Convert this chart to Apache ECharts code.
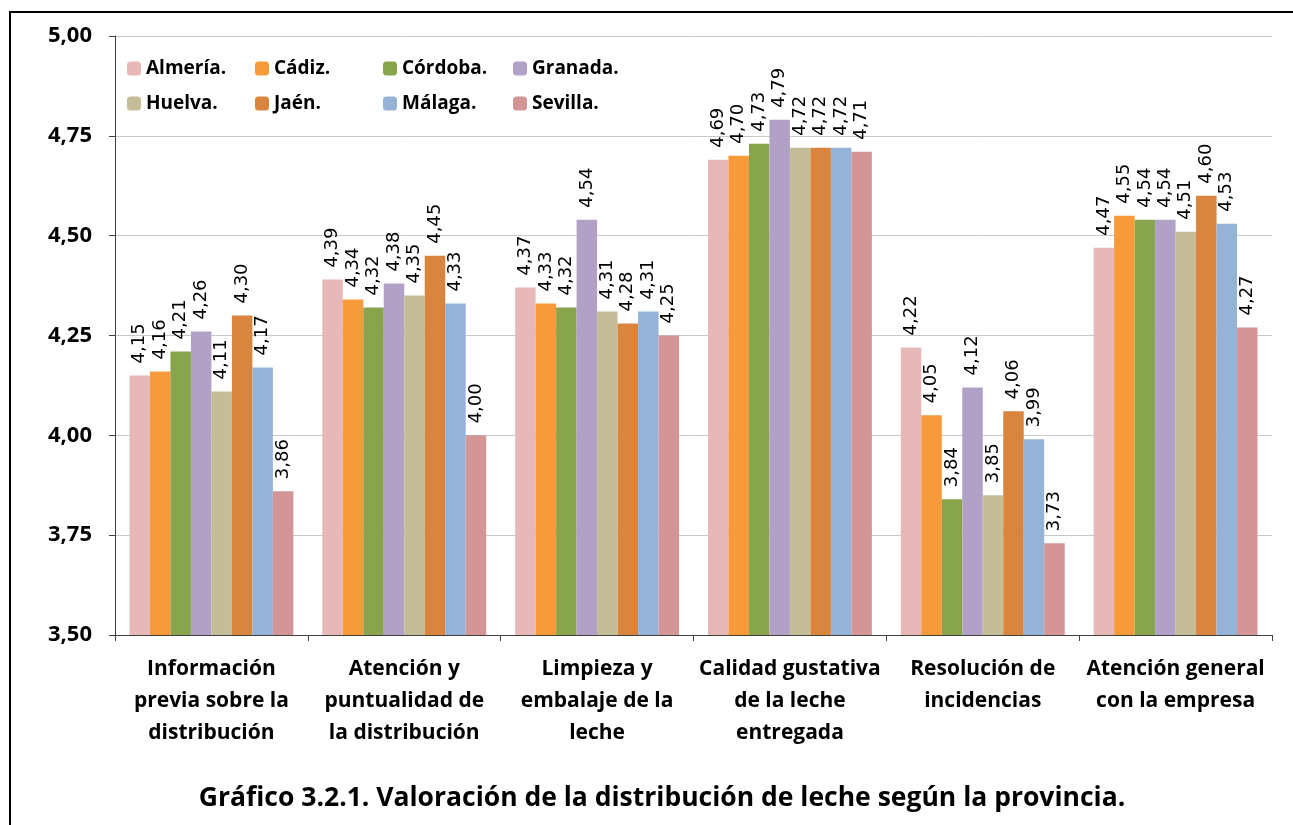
<!DOCTYPE html>
<html>
<head>
<meta charset="utf-8">
<script src="https://cdn.jsdelivr.net/npm/echarts@6/dist/echarts.min.js"></script>
<style>
    html, body { margin: 0; padding: 0; background: #fff; }
    #main { width: 1293px; height: 825px; }
</style>
</head>
<body>
<div id="main"></div>
<script>
// categorías del eje X
var categorias = [
    'Información\nprevia sobre la\ndistribución',
    'Atención y\npuntualidad de\nla distribución',
    'Limpieza y\nembalaje de la\nleche',
    'Calidad gustativa\nde la leche\nentregada',
    'Resolución de\nincidencias',
    'Atención general\ncon la empresa'
];
var provincias = ['Almería.', 'Cádiz.', 'Córdoba.', 'Granada.', 'Huelva.', 'Jaén.', 'Málaga.', 'Sevilla.'];
var colores = ['#E6B9B8', '#F79A3A', '#88A54E', '#B2A1C7', '#C4BD97', '#D9853E', '#95B3D7', '#D39595'];

var almeria = [4.15, 4.39, 4.37, 4.69, 4.22, 4.47];
var cadiz   = [4.16, 4.34, 4.33, 4.70, 4.05, 4.55];
var cordoba = [4.21, 4.32, 4.32, 4.73, 3.84, 4.54];
var granada = [4.26, 4.38, 4.54, 4.79, 4.12, 4.54];
var huelva  = [4.11, 4.35, 4.31, 4.72, 3.85, 4.51];
var jaen    = [4.30, 4.45, 4.28, 4.72, 4.06, 4.60];
var malaga  = [4.17, 4.33, 4.31, 4.72, 3.99, 4.53];
var sevilla = [3.86, 4.00, 4.25, 4.71, 3.73, 4.27];
var valores = [almeria, cadiz, cordoba, granada, huelva, jaen, malaga, sevilla];

function coma(v) {
    return Number(v).toFixed(2).replace('.', ',');
}

var myChart = echarts.init(document.getElementById('main'));

var series = [];
for (var i = 0; i < provincias.length; i++) {
    series.push({
        type: 'bar',
        name: provincias[i],
        data: valores[i],
        barGap: '0%',
        barCategoryGap: '15%',
        itemStyle: { color: colores[i] },
        label: {
            show: true,
            position: 'top',
            rotate: 90,
            align: 'left',
            verticalAlign: 'middle',
            distance: 12,
            fontFamily: 'DejaVu Sans',
            fontSize: 18,
            color: '#000',
            formatter: function (p) { return coma(p.value); }
        }
    });
}

// leyenda en 4 columnas de 2 filas
var leyendas = [];
var columnasX = [127, 255, 383, 513];
for (var c = 0; c < 4; c++) {
    leyendas.push({
        left: columnasX[c],
        top: 59,
        padding: 0,
        orient: 'vertical',
        itemWidth: 14,
        itemHeight: 14,
        itemGap: 16,
        textStyle: { fontFamily: 'Open Sans', fontWeight: 'bold', fontSize: 19, color: '#000' },
        data: [provincias[c], provincias[c + 4]]
    });
}

var option = {
    animation: false,
    color: colores,
    title: {
        text: 'Gráfico 3.2.1. Valoración de la distribución de leche según la provincia.',
        left: 657,
        top: 780,
        textAlign: 'center',
        textStyle: { fontFamily: 'Open Sans', fontWeight: 'bold', fontSize: 26.5, color: '#000' }
    },
    graphic: [{
        type: 'rect',
        shape: { x: 10, y: 12, width: 1400, height: 900 },
        style: { fill: 'none', stroke: '#000', lineWidth: 2 }
    }],
    legend: leyendas,
    grid: { left: 115, right: 21, top: 36, bottom: 190 },
    xAxis: {
        type: 'category',
        data: categorias,
        axisLine: { lineStyle: { color: '#404040', width: 1 } },
        axisTick: { show: true, length: 6, lineStyle: { color: '#404040' } },
        axisLabel: {
            interval: 0,
            margin: 18,
            lineHeight: 32,
            fontFamily: 'Open Sans',
            fontWeight: 'bold',
            fontSize: 21,
            color: '#000'
        }
    },
    yAxis: {
        type: 'value',
        min: 3.5,
        max: 5,
        interval: 0.25,
        axisLine: { show: true, lineStyle: { color: '#404040', width: 1 } },
        axisTick: { show: true, length: 6, lineStyle: { color: '#404040' } },
        splitLine: { lineStyle: { color: '#C8C8C8' } },
        axisLabel: {
            margin: 23,
            fontFamily: 'Open Sans',
            fontWeight: 'bold',
            fontSize: 22,
            color: '#000',
            formatter: coma
        }
    },
    series: series
};

myChart.setOption(option);
</script>
</body>
</html>
